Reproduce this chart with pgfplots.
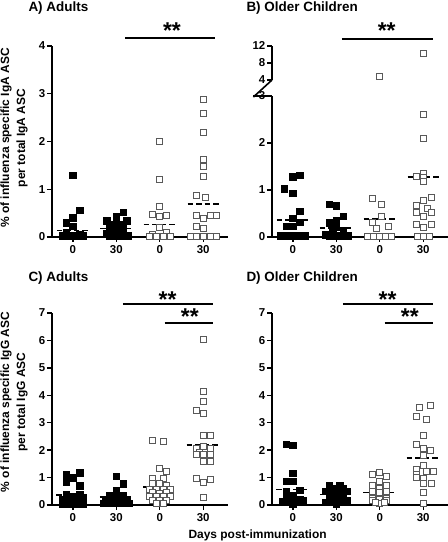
\documentclass[border=0pt]{standalone}
\usepackage{pgfplots}
\pgfplotsset{compat=1.18}
\usepackage{fontspec}
\setmainfont{Liberation Sans}
\pgfplotsset{
  panel/.style={scale only axis, width=176bp, xmin=0.52, xmax=4.57,
    axis lines=left, axis line style={line width=1.6bp,-},
    xtick={1,2,3,4}, xticklabels={0,30,0,30},
    tick style={line width=1.3bp,black}, major tick length=5bp, tick align=outside,
    ticklabel style={font=\bfseries\fontsize{11.5}{13}\selectfont},
    yticklabel style={inner sep=1.5bp},
    /pgf/number format/assume math mode=true,
    clip=false, ymin=0, anchor=south west},
  filled/.style={only marks, mark=square*, mark size=3.2bp, mark options={fill=black, draw=black}},
  open/.style={only marks, mark=square*, mark size=3bp, mark options={fill=white, draw=black!65, line width=0.9bp}},
  med/.style={black, line width=1.6bp, dash pattern=on 5.5bp off 3bp},
}
\tikzset{sigstar/.style={font=\bfseries\fontsize{23}{23}\selectfont, anchor=base}}
\begin{document}
\begin{tikzpicture}
\useasboundingbox (0,0) rectangle (448bp,542bp);
% ---------- A ----------
\begin{axis}[panel, at={(52bp,305bp)}, height=191bp, ymax=4, ytick={0,1,2,3,4}]
\addplot[filled] coordinates {(1.00,1.29)(1.16,0.56)(1.00,0.40)(0.84,0.30)(1.00,0.22)(0.84,0.10)(1.16,0.06)
 (0.76,0.03)(0.92,0.03)(1.08,0.03)(1.24,0.03)};
\addplot[filled] coordinates {(2.16,0.52)(2.00,0.43)(1.78,0.34)(2.24,0.34)(2.00,0.30)(1.92,0.27)(2.08,0.27)
 (1.84,0.24)(2.16,0.24)(2.00,0.18)(1.84,0.12)(2.16,0.12)(1.78,0.07)(1.84,0.03)(2.00,0.03)(2.16,0.03)(2.28,0.03)};
\addplot[open] coordinates {(3.00,2.00)(3.00,1.20)(3.00,0.65)(2.84,0.48)(3.16,0.46)(3.00,0.42)(3.00,0.20)(3.16,0.10)(2.84,0.05)
 (2.76,0.02)(2.92,0.02)(3.08,0.02)(3.24,0.02)};
\addplot[open] coordinates {(4.00,2.88)(4.00,2.58)(4.00,2.18)(4.00,1.63)(4.00,1.48)(4.00,1.27)(3.84,0.88)(4.05,0.83)
 (3.84,0.45)(4.16,0.45)(4.30,0.45)(4.00,0.38)(3.84,0.22)(4.00,0.17)
 (3.70,0.02)(3.84,0.02)(4.00,0.02)(4.16,0.02)(4.30,0.02)};
\addplot[med] coordinates {(0.63,0.14)(1.35,0.14)};
\addplot[med] coordinates {(1.63,0.18)(2.37,0.18)};
\addplot[med] coordinates {(2.63,0.26)(3.37,0.26)};
\addplot[med] coordinates {(3.64,0.69)(4.38,0.69)};
\draw[line width=1.3bp] (axis cs:2.2,4.17) -- (axis cs:4.26,4.17);
\node[sigstar] at (axis cs:3.28,4.16) {**};
\end{axis}
% ---------- B lower ----------
\begin{axis}[panel, at={(272bp,305bp)}, height=141bp, ymax=3, ytick={0,1,2,3}]
\addplot[filled] coordinates {(1.16,1.31)(1.00,1.28)(0.80,1.03)(1.00,0.93)(1.16,0.55)(1.00,0.40)(1.16,0.32)(0.84,0.23)(1.00,0.23)
 (0.72,0.03)(0.86,0.03)(1.00,0.03)(1.14,0.03)(1.28,0.03)};
\addplot[filled] coordinates {(1.84,0.70)(2.00,0.67)(2.16,0.44)(2.00,0.35)(1.84,0.30)(2.00,0.22)(2.16,0.14)(1.92,0.10)(1.76,0.05)
 (1.84,0.03)(2.00,0.03)(2.16,0.03)(2.26,0.03)};
\addplot[open] coordinates {(2.84,0.82)(3.03,0.70)(3.03,0.43)(2.84,0.30)(3.20,0.23)(2.92,0.18)
 (2.72,0.02)(2.86,0.02)(3.00,0.02)(3.14,0.02)(3.28,0.02)};
\addplot[open] coordinates {(4.00,2.60)(4.00,2.10)(4.00,1.36)(3.84,1.28)(4.00,1.27)(4.00,1.19)(4.20,0.84)(4.00,0.77)(3.84,0.68)
 (4.10,0.61)(3.84,0.52)(4.20,0.52)(4.00,0.43)(3.84,0.26)(4.20,0.26)(4.00,0.20)(3.86,0.02)(4.00,0.02)(4.14,0.02)};
\addplot[med] coordinates {(0.63,0.36)(1.35,0.36)};
\addplot[med] coordinates {(1.62,0.19)(2.40,0.19)};
\addplot[med] coordinates {(2.63,0.38)(3.38,0.38)};
\addplot[med] coordinates {(3.64,1.28)(4.38,1.28)};
\draw[line width=1.6bp] (rel axis cs:0,1) -- ++(4bp,0);
\end{axis}
% ---------- B upper ----------
\begin{axis}[panel, at={(272bp,462bp)}, height=34bp, ymin=4, ymax=12, ytick={4,8,12},
  axis x line=none, y axis line style={-}]
\addplot[open] coordinates {(3.00,4.8)(4.00,10.3)};
\draw[line width=1.6bp] (rel axis cs:0,0) -- ++(4bp,0);
\draw[line width=1.3bp] (axis cs:2.13,13.65) -- (axis cs:4.22,13.65);
\node[sigstar] at (axis cs:3.16,13.7) {**};
\end{axis}
% ---------- C ----------
\begin{axis}[panel, at={(52bp,37bp)}, height=192bp, ymax=7, ytick={0,...,7}]
\addplot[filled] coordinates {(0.84,1.12)(1.16,1.18)(1.00,1.00)(0.84,0.85)(1.16,0.70)(0.84,0.37)(1.16,0.37)(1.00,0.30)
 (0.76,0.20)(0.92,0.20)(1.08,0.20)(1.24,0.20)(0.84,0.12)(1.00,0.12)(1.16,0.12)(0.76,0.05)(0.92,0.05)(1.08,0.05)(1.24,0.05)};
\addplot[filled] coordinates {(2.00,1.05)(2.16,0.78)(2.00,0.52)(1.84,0.35)(2.16,0.35)(2.00,0.30)
 (1.76,0.20)(1.92,0.20)(2.08,0.20)(2.24,0.20)(1.84,0.12)(2.00,0.12)(2.16,0.12)(1.70,0.06)(1.86,0.06)(2.02,0.06)(2.18,0.06)(2.30,0.06)};
\addplot[open] coordinates {(2.84,2.37)(3.08,2.30)(3.00,1.34)(3.16,1.22)(2.84,0.96)(3.08,0.95)(2.84,0.78)(3.00,0.80)(3.16,0.70)
 (2.76,0.58)(2.92,0.58)(3.08,0.58)(3.24,0.55)(2.84,0.45)(3.00,0.42)(3.16,0.45)(2.76,0.32)(2.92,0.32)(3.08,0.32)(3.24,0.30)
 (2.84,0.18)(3.00,0.18)(3.16,0.18)(2.92,0.05)(3.08,0.05)};
\addplot[open] coordinates {(4.00,6.02)(4.00,4.13)(4.00,3.77)(3.84,3.44)(4.00,3.33)(4.00,2.55)(4.16,2.55)(4.00,2.13)(3.84,2.07)
 (4.16,2.07)(3.92,1.92)(4.00,1.85)(4.16,1.85)(3.84,1.85)(4.00,1.58)(4.16,1.58)(3.84,0.97)(4.16,0.92)(4.00,0.81)(4.00,0.27)};
\addplot[med] coordinates {(0.62,0.37)(1.38,0.37)};
\addplot[med] coordinates {(1.62,0.30)(2.38,0.30)};
\addplot[med] coordinates {(2.62,0.65)(3.38,0.65)};
\addplot[med] coordinates {(3.62,2.19)(4.38,2.19)};
\draw[line width=1.3bp] (axis cs:2.15,7.33) -- (axis cs:4.22,7.33);
\draw[line width=1.3bp] (axis cs:3.11,6.64) -- (axis cs:4.22,6.64);
\node[sigstar] at (axis cs:3.18,7.19) {**};
\node[sigstar] at (axis cs:3.69,6.57) {**};
\end{axis}
% ---------- D ----------
\begin{axis}[panel, at={(272bp,37bp)}, height=192bp, ymax=7, ytick={0,...,7}]
\addplot[filled] coordinates {(0.84,2.22)(1.00,2.19)(1.00,1.15)(0.84,0.86)(1.00,0.86)(1.16,0.55)(0.84,0.50)(1.00,0.35)
 (0.84,0.30)(1.00,0.25)(1.16,0.20)(0.76,0.12)(0.92,0.12)(1.08,0.12)(1.24,0.15)(1.00,0.05)};
\addplot[filled] coordinates {(1.84,0.70)(2.08,0.72)(2.16,0.62)(1.92,0.60)(2.24,0.50)(1.76,0.50)(2.00,0.50)(1.84,0.40)(2.16,0.40)
 (2.00,0.32)(1.84,0.22)(2.08,0.20)(1.92,0.10)(2.16,0.10)(2.00,0.05)(1.76,0.10)(2.24,0.15)};
\addplot[open] coordinates {(3.00,1.17)(2.84,1.10)(3.16,1.05)(3.00,0.85)(2.84,0.72)(3.16,0.72)(3.00,0.60)(2.84,0.50)(3.16,0.48)
 (3.00,0.45)(2.84,0.25)(3.16,0.25)(3.00,0.20)(2.84,0.15)(3.16,0.15)(3.00,0.05)(2.90,0.10)(3.10,0.10)};
\addplot[open] coordinates {(4.16,3.62)(3.92,3.55)(3.84,3.22)(4.08,3.12)(4.00,2.52)(3.84,2.22)(4.00,2.05)(4.16,2.00)(4.00,1.80)
 (4.00,1.45)(3.84,1.30)(4.08,1.22)(4.24,1.22)(3.84,1.10)(3.84,1.00)(4.00,0.95)(4.00,0.78)(4.20,0.78)(4.00,0.45)(4.00,0.05)};
\addplot[med] coordinates {(0.62,0.57)(1.38,0.57)};
\addplot[med] coordinates {(1.62,0.38)(2.38,0.38)};
\addplot[med] coordinates {(2.62,0.45)(3.38,0.45)};
\addplot[med] coordinates {(3.62,1.72)(4.40,1.72)};
\draw[line width=1.3bp] (axis cs:2.15,7.33) -- (axis cs:4.22,7.33);
\draw[line width=1.3bp] (axis cs:3.11,6.64) -- (axis cs:4.22,6.64);
\node[sigstar] at (axis cs:3.18,7.19) {**};
\node[sigstar] at (axis cs:3.69,6.57) {**};
\end{axis}
% ---------- texts ----------
\node[anchor=base west, font=\bfseries\fontsize{13.5}{15}\selectfont] at (25bp,530bp) {A) Adults};
\node[anchor=base west, font=\bfseries\fontsize{13.5}{15}\selectfont] at (243bp,530bp) {B) Older Children};
\node[anchor=base west, font=\bfseries\fontsize{13.5}{15}\selectfont] at (25bp,260bp) {C) Adults};
\node[anchor=base west, font=\bfseries\fontsize{13.5}{15}\selectfont] at (243bp,260bp) {D) Older Children};
\node[rotate=90, align=center, font=\bfseries\fontsize{12}{16}\selectfont] at (14bp,404bp) {\% of influenza specific IgA ASC\\per total IgA ASC};
\node[rotate=90, align=center, font=\bfseries\fontsize{12}{16}\selectfont] at (14bp,140bp) {\% of influenza specific IgG ASC\\per total IgG ASC};
\node[anchor=base west, font=\bfseries\fontsize{12}{14}\selectfont] at (185bp,4bp) {Days post-immunization};
\end{tikzpicture}
\end{document}
